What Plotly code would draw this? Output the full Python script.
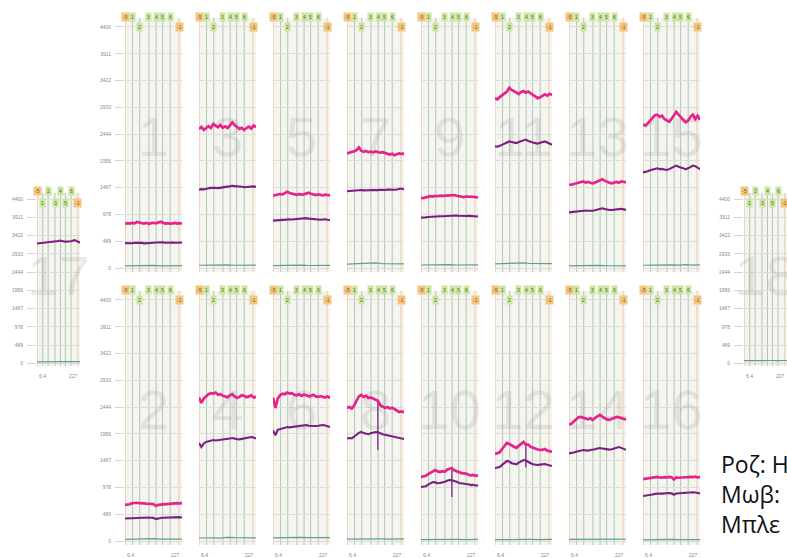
import plotly.graph_objects as go

# ---------------------------------------------------------------- data
TIME = [6.4, 15.6, 24.8, 34.0, 43.2, 52.4, 61.6, 70.7, 79.9, 89.1, 98.3, 107.5,
        116.7, 125.9, 135.1, 144.3, 153.5, 162.6, 171.8, 181.0, 190.2, 199.4,
        208.6, 217.8, 227.0]
TEAL_TIME = [6.4, 34.0, 61.6, 89.1, 116.7, 144.3, 171.8, 199.4, 227.0]

Y_TICKS = [0, 489, 978, 1467, 1956, 2444, 2933, 3422, 3911, 4400]
Y_TICK_TEXT = ["0", "489", "978", "1467", "1956", "2444", "2933", "3422", "3911", "4400"]
X_TICK_TEXT = ["6.4", "227"]

# event markers drawn as vertical lines in every panel
EVENT_LABELS = ["-5", "1", "2", "3", "4", "5", "6", "-1"]
EVENT_TIMES = [7.2, 35.7, 63.5, 98.9, 126.8, 152.0, 181.3, 215.5]

# pink series
pink_1 = [805, 820, 810, 825, 815, 840, 830, 820, 812, 825, 808, 818, 826, 815, 835, 845, 828, 812, 820, 808, 815, 822, 810, 818, 812]
pink_3 = [2540, 2575, 2520, 2560, 2590, 2555, 2630, 2600, 2570, 2610, 2560, 2585, 2555, 2600, 2660, 2610, 2575, 2540, 2560, 2520, 2555, 2580, 2545, 2600, 2570]
pink_5 = [1320, 1330, 1335, 1350, 1345, 1365, 1390, 1370, 1355, 1345, 1335, 1350, 1340, 1345, 1365, 1375, 1355, 1340, 1330, 1345, 1335, 1325, 1340, 1330, 1325]
pink_7 = [2090, 2100, 2110, 2130, 2150, 2200, 2140, 2120, 2135, 2115, 2125, 2110, 2130, 2120, 2105, 2115, 2095, 2080, 2070, 2085, 2060, 2075, 2090, 2080, 2095]
pink_9 = [1280, 1275, 1290, 1300, 1310, 1305, 1318, 1310, 1322, 1315, 1320, 1330, 1325, 1338, 1332, 1318, 1310, 1300, 1295, 1305, 1300, 1290, 1298, 1295, 1290]
pink_11 = [3100, 3080, 3120, 3150, 3180, 3220, 3290, 3250, 3230, 3200, 3175, 3215, 3230, 3200, 3220, 3190, 3160, 3130, 3100, 3115, 3150, 3170, 3145, 3180, 3160]
pink_13 = [1525, 1520, 1535, 1550, 1560, 1575, 1582, 1560, 1570, 1555, 1545, 1560, 1580, 1600, 1620, 1595, 1570, 1555, 1545, 1560, 1570, 1555, 1580, 1575, 1560]
pink_15 = [2620, 2600, 2640, 2700, 2740, 2790, 2800, 2760, 2780, 2720, 2690, 2670, 2720, 2780, 2850, 2800, 2740, 2700, 2660, 2690, 2760, 2800, 2720, 2780, 2700]
pink_2 = [660, 665, 670, 690, 700, 698, 690, 695, 688, 680, 685, 678, 675, 640, 660, 665, 670, 672, 678, 680, 685, 682, 690, 688, 692]
pink_4 = [2620, 2520, 2600, 2650, 2680, 2700, 2690, 2710, 2670, 2680, 2650, 2640, 2620, 2660, 2680, 2640, 2610, 2630, 2660, 2650, 2625, 2640, 2660, 2620, 2630]
pink_6 = [2620, 2430, 2600, 2660, 2690, 2680, 2710, 2690, 2700, 2670, 2660, 2680, 2650, 2670, 2660, 2640, 2650, 2670, 2640, 2630, 2645, 2625, 2620, 2640, 2610]
pink_8 = [2430, 2445, 2420, 2470, 2560, 2640, 2666, 2630, 2650, 2610, 2620, 2600, 2590, 2560, 2480, 2450, 2430, 2447, 2420, 2435, 2410, 2380, 2355, 2365, 2350]
pink_10 = [1170, 1180, 1190, 1220, 1250, 1280, 1296, 1270, 1260, 1275, 1265, 1300, 1320, 1333, 1290, 1270, 1250, 1240, 1235, 1230, 1210, 1200, 1205, 1190, 1200]
pink_12 = [1590, 1610, 1620, 1680, 1740, 1790, 1770, 1740, 1720, 1700, 1740, 1780, 1808, 1760, 1760, 1720, 1700, 1680, 1670, 1665, 1662, 1680, 1650, 1640, 1625]
pink_14 = [2130, 2140, 2180, 2220, 2260, 2264, 2250, 2230, 2220, 2240, 2210, 2250, 2280, 2301, 2270, 2240, 2220, 2210, 2230, 2250, 2264, 2260, 2240, 2230, 2220]
pink_16 = [1130, 1135, 1140, 1150, 1160, 1165, 1170, 1160, 1155, 1165, 1160, 1170, 1165, 1125, 1160, 1155, 1160, 1165, 1162, 1168, 1170, 1165, 1175, 1160, 1165]

# purple series
purple_1 = [455, 450, 458, 452, 460, 462, 455, 458, 450, 456, 460, 457, 462, 466, 470, 476, 468, 462, 466, 460, 465, 462, 468, 464, 466]
purple_3 = [1430, 1440, 1435, 1450, 1455, 1462, 1470, 1465, 1458, 1468, 1475, 1480, 1485, 1490, 1500, 1495, 1486, 1478, 1482, 1475, 1480, 1488, 1484, 1490, 1480]
purple_5 = [865, 870, 872, 880, 878, 885, 890, 888, 886, 892, 895, 898, 900, 905, 910, 902, 896, 890, 888, 885, 880, 886, 890, 880, 875]
purple_7 = [1400, 1405, 1410, 1415, 1412, 1420, 1425, 1418, 1415, 1420, 1425, 1420, 1418, 1422, 1428, 1420, 1425, 1430, 1425, 1422, 1428, 1432, 1440, 1450, 1435]
purple_9 = [920, 918, 925, 930, 935, 938, 940, 942, 945, 944, 948, 950, 955, 958, 962, 958, 955, 950, 946, 950, 952, 948, 945, 944, 940]
purple_11 = [2220, 2215, 2230, 2250, 2270, 2290, 2310, 2300, 2290, 2280, 2300, 2320, 2330, 2345, 2320, 2300, 2290, 2280, 2270, 2285, 2300, 2310, 2290, 2265, 2250]
purple_13 = [1015, 1020, 1025, 1035, 1040, 1048, 1052, 1050, 1045, 1040, 1048, 1055, 1065, 1080, 1090, 1078, 1065, 1060, 1058, 1062, 1068, 1072, 1080, 1070, 1060]
purple_15 = [1745, 1750, 1765, 1785, 1800, 1815, 1820, 1805, 1810, 1800, 1790, 1805, 1830, 1855, 1870, 1850, 1830, 1815, 1805, 1820, 1845, 1870, 1860, 1830, 1805]
purple_2 = [410, 412, 415, 420, 425, 428, 430, 426, 428, 425, 428, 425, 422, 400, 415, 420, 425, 428, 430, 432, 430, 434, 432, 435, 430]
purple_4 = [1790, 1716, 1780, 1810, 1820, 1830, 1844, 1835, 1840, 1850, 1855, 1860, 1855, 1870, 1880, 1865, 1860, 1855, 1862, 1870, 1875, 1885, 1899, 1890, 1870]
purple_6 = [2020, 1930, 2030, 2045, 2060, 2070, 2082, 2075, 2080, 2085, 2090, 2095, 2100, 2110, 2118, 2105, 2100, 2095, 2100, 2105, 2110, 2118, 2108, 2095, 2080]
purple_8 = [1870, 1880, 1875, 1900, 1940, 1975, 1990, 1970, 1960, 1950, 1965, 1980, 1990, 1985, 1960, 1950, 1940, 1930, 1920, 1910, 1899, 1890, 1875, 1865, 1862]
purple_10 = [985, 990, 1000, 1030, 1060, 1077, 1070, 1055, 1060, 1065, 1080, 1100, 1114, 1110, 1100, 1080, 1060, 1050, 1045, 1040, 1035, 1020, 1025, 1010, 1020]
purple_12 = [1333, 1340, 1350, 1390, 1430, 1461, 1450, 1420, 1410, 1400, 1430, 1460, 1479, 1470, 1440, 1420, 1400, 1390, 1388, 1395, 1400, 1405, 1390, 1380, 1370]
purple_14 = [1600, 1605, 1615, 1630, 1645, 1650, 1662, 1655, 1650, 1660, 1665, 1675, 1690, 1698, 1690, 1680, 1670, 1668, 1675, 1690, 1705, 1716, 1700, 1680, 1665]
purple_16 = [820, 825, 830, 840, 850, 860, 870, 868, 865, 870, 872, 875, 870, 845, 868, 872, 870, 875, 878, 880, 885, 890, 885, 875, 870]
purple_17 = [3210, 3215, 3225, 3230, 3220, 3235, 3240, 3238, 3245, 3250, 3255, 3260, 3275, 3290, 3270, 3265, 3260, 3258, 3262, 3270, 3285, 3300, 3280, 3260, 3230]

# short artefact spikes: panel, time, low, high
spike_panel = [8, 10, 12]
spike_time = [125.9, 125.9, 125.9]
spike_low = [1660, 803, 1340]
spike_high = [2560, 1300, 1790]

# teal (baseline) series
teal_1 = [40, 45, 38, 42, 48, 40, 44, 38, 42]
teal_3 = [50, 55, 48, 52, 58, 50, 54, 48, 52]
teal_5 = [45, 50, 55, 48, 52, 46, 50, 44, 48]
teal_7 = [70, 75, 72, 80, 95, 78, 74, 80, 76]
teal_9 = [55, 60, 52, 58, 62, 55, 60, 54, 58]
teal_11 = [75, 80, 78, 85, 95, 82, 80, 78, 80]
teal_13 = [38, 42, 40, 45, 48, 42, 40, 44, 40]
teal_15 = [50, 55, 60, 52, 58, 54, 60, 52, 56]
teal_2 = [30, 35, 32, 38, 42, 36, 34, 38, 35]
teal_4 = [55, 60, 58, 54, 65, 60, 56, 60, 58]
teal_6 = [58, 62, 60, 56, 66, 62, 58, 62, 60]
teal_8 = [35, 38, 36, 40, 42, 38, 36, 40, 38]
teal_10 = [25, 28, 26, 30, 32, 28, 26, 30, 28]
teal_12 = [25, 28, 26, 30, 32, 28, 26, 30, 28]
teal_14 = [30, 32, 30, 35, 36, 32, 30, 34, 32]
teal_16 = [20, 24, 22, 26, 28, 24, 22, 26, 24]
teal_17 = [40, 44, 42, 46, 48, 44, 42, 46, 44]
teal_18 = [70, 74, 72, 76, 78, 74, 72, 76, 74]

PINK = {1: pink_1, 2: pink_2, 3: pink_3, 4: pink_4, 5: pink_5, 6: pink_6, 7: pink_7, 8: pink_8,
        9: pink_9, 10: pink_10, 11: pink_11, 12: pink_12, 13: pink_13, 14: pink_14, 15: pink_15, 16: pink_16}
PURPLE = {1: purple_1, 2: purple_2, 3: purple_3, 4: purple_4, 5: purple_5, 6: purple_6, 7: purple_7,
          8: purple_8, 9: purple_9, 10: purple_10, 11: purple_11, 12: purple_12, 13: purple_13,
          14: purple_14, 15: purple_15, 16: purple_16, 17: purple_17}
TEAL = {1: teal_1, 2: teal_2, 3: teal_3, 4: teal_4, 5: teal_5, 6: teal_6, 7: teal_7, 8: teal_8,
        9: teal_9, 10: teal_10, 11: teal_11, 12: teal_12, 13: teal_13, 14: teal_14, 15: teal_15,
        16: teal_16, 17: teal_17, 18: teal_18}

NOTE_LINES = ["Ροζ: H", "Μωβ:", "Μπλε"]

# ---------------------------------------------------------------- layout geometry (pixels)
W, H = 787, 558
COL_LEFT = [125, 199, 273, 347, 421, 495, 569, 643]
COL_W = 57
TOP_ROW = (18, 272)
BOT_ROW = (291, 545)
SIDE_ROW = (193, 366)
Y_RANGE = [-73, 4564]
X_RANGE = [6.4, 227]

PINK_C = "#e8228a"
PURPLE_C = "#7a1f80"
TEAL_C = "#5f9c9c"
TICK_C = "#7d8ba0"
ORANGE_LINE = "#ecc9a0"
GREEN_LINE = "#b3c6aa"
ORANGE_BOX = "#f5c57c"
GREEN_BOX = "#cbe6a2"


def panel_box(p):
    if p == 17:
        return (37, 80), SIDE_ROW
    if p == 18:
        return (744, 787), SIDE_ROW
    if p % 2 == 1:
        c = (p - 1) // 2
        return (COL_LEFT[c], COL_LEFT[c] + COL_W), TOP_ROW
    c = p // 2 - 1
    return (COL_LEFT[c], COL_LEFT[c] + COL_W), BOT_ROW


def ax_name(kind, p):
    return kind if p == 1 else f"{kind}{p}"


fig = go.Figure()
layout = dict(width=W, height=H, margin=dict(l=0, r=0, t=0, b=0),
              paper_bgcolor="white", plot_bgcolor="#f4f4f1", showlegend=False,
              shapes=[], annotations=[])

tick_font = dict(family="Liberation Sans, Arial, sans-serif", size=5, color=TICK_C)

for p in range(1, 19):
    (x0, x1), (y0, y1) = panel_box(p)
    xa, ya = ax_name("xaxis", p), ax_name("yaxis", p)
    xr, yr = ax_name("x", p), ax_name("y", p)
    show_y = p in (1, 2, 17, 18)
    layout[xa] = dict(domain=[x0 / W, x1 / W], anchor=yr, range=X_RANGE,
                      showgrid=False, zeroline=False, showticklabels=False,
                      ticks="", showline=False, fixedrange=True)
    layout[ya] = dict(domain=[1 - y1 / H, 1 - y0 / H], anchor=xr, range=Y_RANGE,
                      tickvals=Y_TICKS, ticktext=Y_TICK_TEXT, showgrid=True,
                      gridcolor="#dcdcd8", gridwidth=1, zeroline=False,
                      showticklabels=show_y, ticks="outside" if show_y else "",
                      ticklen=9, tickcolor="#d4d4d4", tickfont=tick_font,
                      ticklabelstandoff=3, showline=False, fixedrange=True)

    # panel number in the background
    fig.add_trace(go.Scatter(x=[116.7], y=[2300 if p <= 16 else 2200], mode="text",
                             text=[str(p)], cliponaxis=False, hoverinfo="skip",
                             textfont=dict(family="Liberation Sans, Arial, sans-serif",
                                           size=56, color="rgba(150,150,150,0.20)"),
                             xaxis=xr, yaxis=yr))

    # event lines
    for lab, t in zip(EVENT_LABELS, EVENT_TIMES):
        orange = lab.startswith("-")
        layout["shapes"].append(dict(type="line", xref=xr, yref=f"{yr} domain",
                                     x0=t, x1=t, y0=0, y1=1, layer="below",
                                     line=dict(color=ORANGE_LINE if orange else GREEN_LINE,
                                               width=1)))

    # event label boxes above each panel
    for i, (lab, t) in enumerate(zip(EVENT_LABELS, EVENT_TIMES)):
        orange = lab.startswith("-")
        if p <= 16:
            upper = lab not in ("2", "-1")
            ypx = y0 - 1 if upper else y0 + 9
        else:
            upper = i % 2 == 0
            ypx = y0 - 2 if upper else y0 + 10
        layout["annotations"].append(dict(
            x=t, xref=xr, y=1 - ypx / H, yref="paper", text=lab, showarrow=False,
            xanchor="center", yanchor="middle", bgcolor=ORANGE_BOX if orange else GREEN_BOX,
            borderpad=1, font=dict(family="Liberation Sans, Arial, sans-serif", size=5,
                                   color="#6a5a30" if orange else "#4c6a2c")))

    # x tick labels at both ends (bottom row and side panels)
    if p % 2 == 0 or p >= 17:
        for val, txt, anc in ((X_RANGE[0], X_TICK_TEXT[0], "left"),
                              (X_RANGE[1], X_TICK_TEXT[1], "right")):
            layout["annotations"].append(dict(
                x=val, xref=xr, y=0, yref=f"{yr} domain", text=txt, showarrow=False,
                xanchor=anc, yanchor="top", yshift=-5, font=tick_font))

    # data lines
    fig.add_trace(go.Scatter(x=TEAL_TIME, y=TEAL[p], mode="lines", hoverinfo="skip",
                             line=dict(color=TEAL_C, width=1.2), xaxis=xr, yaxis=yr))
    if p in PURPLE:
        fig.add_trace(go.Scatter(x=TIME, y=PURPLE[p], mode="lines",
                                 line=dict(color=PURPLE_C, width=2.1), xaxis=xr, yaxis=yr))
    if p in spike_panel:
        k = spike_panel.index(p)
        fig.add_trace(go.Scatter(x=[spike_time[k], spike_time[k]],
                                 y=[spike_low[k], spike_high[k]], mode="lines",
                                 line=dict(color=PURPLE_C, width=1.2), xaxis=xr, yaxis=yr))
    if p in PINK:
        fig.add_trace(go.Scatter(x=TIME, y=PINK[p], mode="lines",
                                 line=dict(color=PINK_C, width=2.7), xaxis=xr, yaxis=yr))

# side note text
for i, line in enumerate(NOTE_LINES):
    layout["annotations"].append(dict(
        x=719 / W, xref="paper", y=1 - (464 + 30 * i) / H, yref="paper", text=line,
        showarrow=False, xanchor="left", yanchor="middle",
        font=dict(family="Open Sans, Noto Sans, sans-serif", size=23, color="#111111")))

fig.update_layout(**layout)
fig.write_html("out.html")
